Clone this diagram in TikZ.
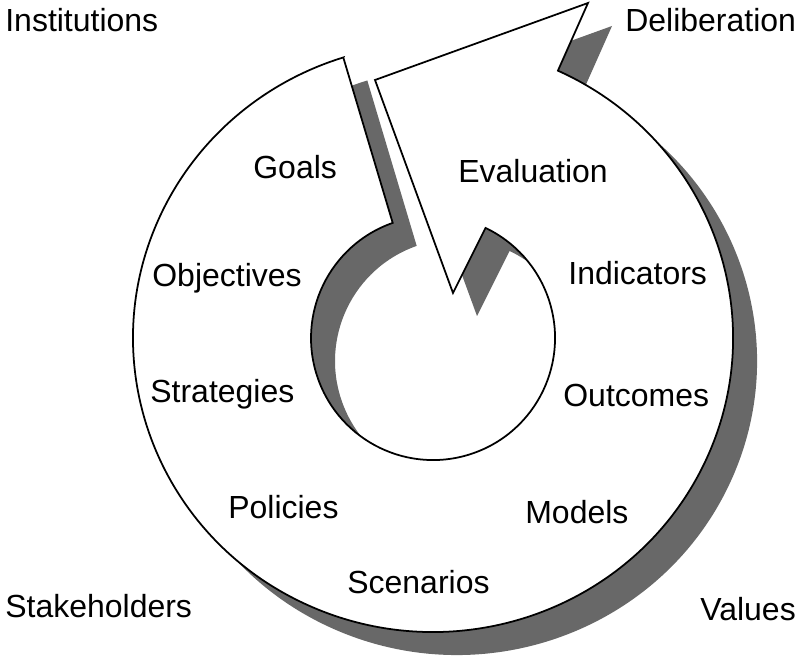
\documentclass[tikz,border=0pt]{standalone}
\usepackage{fontspec}
\setmainfont{Liberation Sans}
\usepackage{tikz}
\usetikzlibrary{calc}
\usepackage{xcolor}
\definecolor{shadec}{RGB}{104,104,104}
\tikzset{
  lbl/.style={anchor=base west,inner sep=0pt,font=\fontsize{18.2pt}{22pt}\selectfont},
  shd/.style={fill=shadec},
  band/.style={fill=white,draw=black,line width=1pt,line join=miter},
}
% spiral arrow outline (tail, inner hole, head, outer rim)
\newcommand{\spiralpath}{(343.3,601.5) -- (392.7,436.1)
  arc[start angle=109.3,end angle=424.5,radius=122]
  -- (453,366) -- (375,579) -- (588,656) -- (557.9,588.3)
  arc[start angle=65.4,end angle=-252.6,x radius=300,y radius=294] -- cycle}

\begin{document}
\begin{tikzpicture}[x=0.02cm,y=0.02cm]
  \useasboundingbox (0,0) rectangle (800,659);
  \fill[shd,shift={(24,-23)}] \spiralpath;
  \draw[band] \spiralpath;
  \foreach \nm/\x/\y/\t in {inst/5/627/Institutions,delib/625/627/Deliberation,
      goals/253/480/Goals,eval/458/476/Evaluation,obj/152/372/Objectives,
      ind/568/374/Indicators,strat/150/256/Strategies,outc/563/252/Outcomes,
      pol/228/141/Policies,mod/525/136/Models,scen/347/66/Scenarios,
      stake/5/42/Stakeholders,val/700/39/Values}{
     \node[lbl] (\nm) at (\x,\y) {\t};}
\end{tikzpicture}
\end{document}
